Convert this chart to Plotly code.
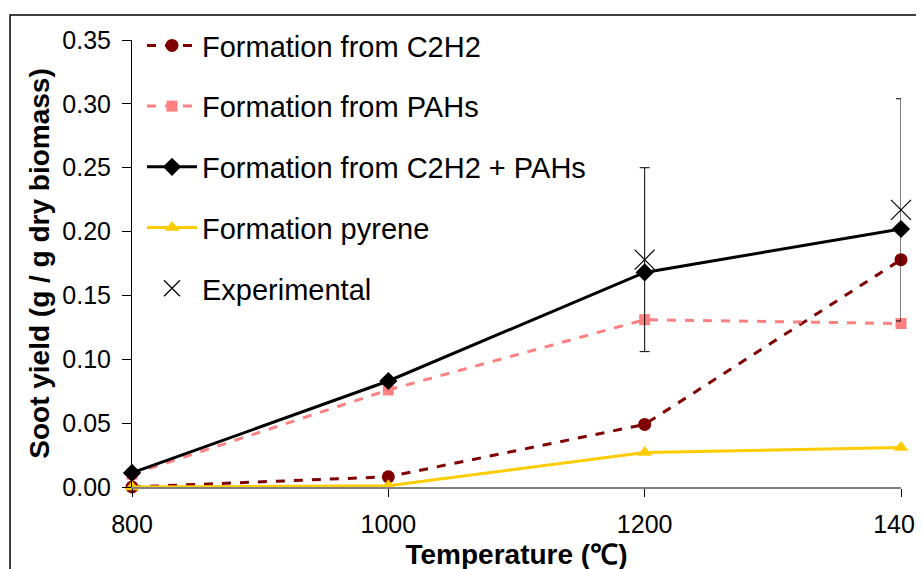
import plotly.graph_objects as go

# temperatures (C)
temps = [800, 1000, 1200, 1400]

# soot yield, g / g dry biomass
c2h2 = [0.000, 0.008, 0.049, 0.178]
pahs = [0.010, 0.076, 0.131, 0.128]
c2h2_pahs = [0.011, 0.083, 0.168, 0.202]
pyrene = [0.000, 0.001, 0.027, 0.031]

# experimental points with error bars
exp_temps = [1200, 1400]
exp_vals = [0.178, 0.217]
exp_err = [0.072, 0.087]

fnt = "Liberation Sans, Arial, sans-serif"

fig = go.Figure()

fig.add_trace(go.Scatter(x=temps, y=c2h2, name="Formation from C2H2",
                         mode="lines+markers", legendgroup="a", cliponaxis=False,
                         line=dict(color="#800000", width=3, dash="dash"),
                         marker=dict(symbol="circle", size=13, color="#800000")))
fig.add_trace(go.Scatter(x=temps, y=pahs, name="Formation from PAHs",
                         mode="lines+markers", legendgroup="b", cliponaxis=False,
                         line=dict(color="#FF8080", width=3, dash="dash"),
                         marker=dict(symbol="square", size=11, color="#FF8080")))
fig.add_trace(go.Scatter(x=temps, y=c2h2_pahs, name="Formation from C2H2 + PAHs",
                         mode="lines+markers", legendgroup="c", cliponaxis=False,
                         line=dict(color="#000000", width=3),
                         marker=dict(symbol="diamond", size=14, color="#000000")))
fig.add_trace(go.Scatter(x=temps, y=pyrene, name="Formation pyrene",
                         mode="lines+markers", legendgroup="d", cliponaxis=False,
                         line=dict(color="#FFCC00", width=3),
                         marker=dict(symbol="triangle-up", size=13, color="#FFCC00")))
fig.add_trace(go.Scatter(x=exp_temps, y=exp_vals, name="Experimental",
                         mode="markers", legendgroup="e", cliponaxis=False,
                         marker=dict(symbol="x-thin", size=20,
                                     line=dict(color="#000000", width=1.2)),
                         error_y=dict(type="data", array=exp_err, visible=True,
                                      color="#000000", thickness=1, width=5)))

# outer chart border
fig.add_shape(type="rect", xref="paper", yref="paper",
              x0=-0.1586, x1=1.2, y0=-0.4, y1=1.056,
              line=dict(color="#000000", width=1.5))

fig.update_xaxes(range=[800, 1400], tickvals=[800, 1000, 1200, 1400],
                 showgrid=False, zeroline=False, showline=True,
                 linecolor="#808080", linewidth=1.5,
                 ticks="outside", ticklen=8, tickcolor="#000000",
                 ticklabeloverflow="allow", ticklabelstandoff=6,
                 tickfont=dict(family=fnt, size=25, color="#000000"),
                 title=dict(text="<b>Temperature (℃)</b>", standoff=8,
                            font=dict(family=fnt, size=28, color="#000000")))
fig.update_yaxes(range=[0, 0.35], tickvals=[0, 0.05, 0.1, 0.15, 0.2, 0.25, 0.3, 0.35],
                 tickformat=".2f",
                 showgrid=False, zeroline=False, showline=True,
                 linecolor="#000000", linewidth=1,
                 ticks="outside", ticklen=9, tickcolor="#000000",
                 ticklabelstandoff=6,
                 tickfont=dict(family=fnt, size=25, color="#000000"),
                 title=dict(text="<b>Soot yield (g / g dry biomass)</b>", standoff=4,
                            font=dict(family=fnt, size=28, color="#000000")))

fig.update_layout(
    width=924, height=569,
    margin=dict(l=124, r=31, t=32, b=90, autoexpand=False),
    paper_bgcolor="white", plot_bgcolor="white",
    font=dict(family=fnt, color="#000000"),
    legend=dict(x=0.013, y=1.0446, xanchor="left", yanchor="top",
                bgcolor="rgba(0,0,0,0)", borderwidth=0,
                font=dict(family=fnt, size=29, color="#000000"),
                itemwidth=50, tracegroupgap=20, maxheight=500),
)

fig.write_html("out.html")
